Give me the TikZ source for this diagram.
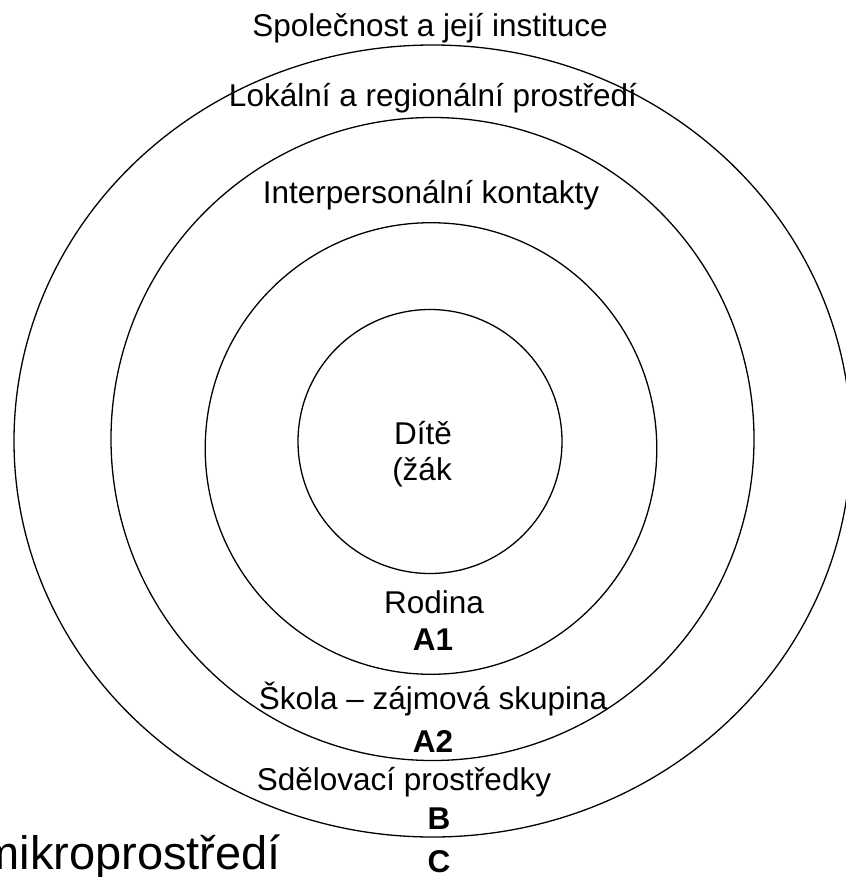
\documentclass[tikz,border=0pt]{standalone}
\usepackage{fontspec}
\setmainfont{Liberation Sans}
\begin{document}
\begin{tikzpicture}[x=1bp,y=-1bp,
  ring/.style={draw=black,line width=1.3bp},
  lbl/.style={anchor=base,inner sep=0pt,font=\fontsize{31.5bp}{36bp}\selectfont},
  blbl/.style={anchor=base,inner sep=0pt,font=\fontsize{31.5bp}{36bp}\selectfont\bfseries},
  biglbl/.style={anchor=base east,inner sep=0pt,font=\fontsize{47bp}{52bp}\selectfont}]
\useasboundingbox (0,0) rectangle (846,877);
\clip (0,0) rectangle (846,877);
\fill[white] (0,0) rectangle (846,877);
% rings
\draw[ring] (432.5,441) ellipse [x radius=418.5bp, y radius=396bp];
\draw[ring] (432.5,439) circle [radius=321.5bp];
\draw[ring] (431,448.5) circle [radius=225.8bp];
\draw[ring] (430,441.5) circle [radius=132bp];
% labels
\node[lbl] (spol) at (430,36) {Společnost a její instituce};
\node[lbl] (lok) at (433,106) {Lokální a regionální prostředí};
\node[lbl] (inter) at (431,203) {Interpersonální kontakty};
\node[lbl] (dite) at (423,444) {Dítě};
\node[lbl] (zak) at (422,480) {(žák};
\node[lbl] (rod) at (434,613) {Rodina};
\node[blbl] (a1) at (433,650) {A1};
\node[lbl] (skola) at (433,709) {Škola – zájmová skupina};
\node[blbl] (a2) at (433,752) {A2};
\node[lbl] (sdel) at (404,790) {Sdělovací prostředky};
\node[blbl] (b) at (439,829) {B};
\node[blbl] (c) at (439,872) {C};
\node[biglbl] (mikro) at (281,869) {mikroprostředí};
\end{tikzpicture}
\end{document}
